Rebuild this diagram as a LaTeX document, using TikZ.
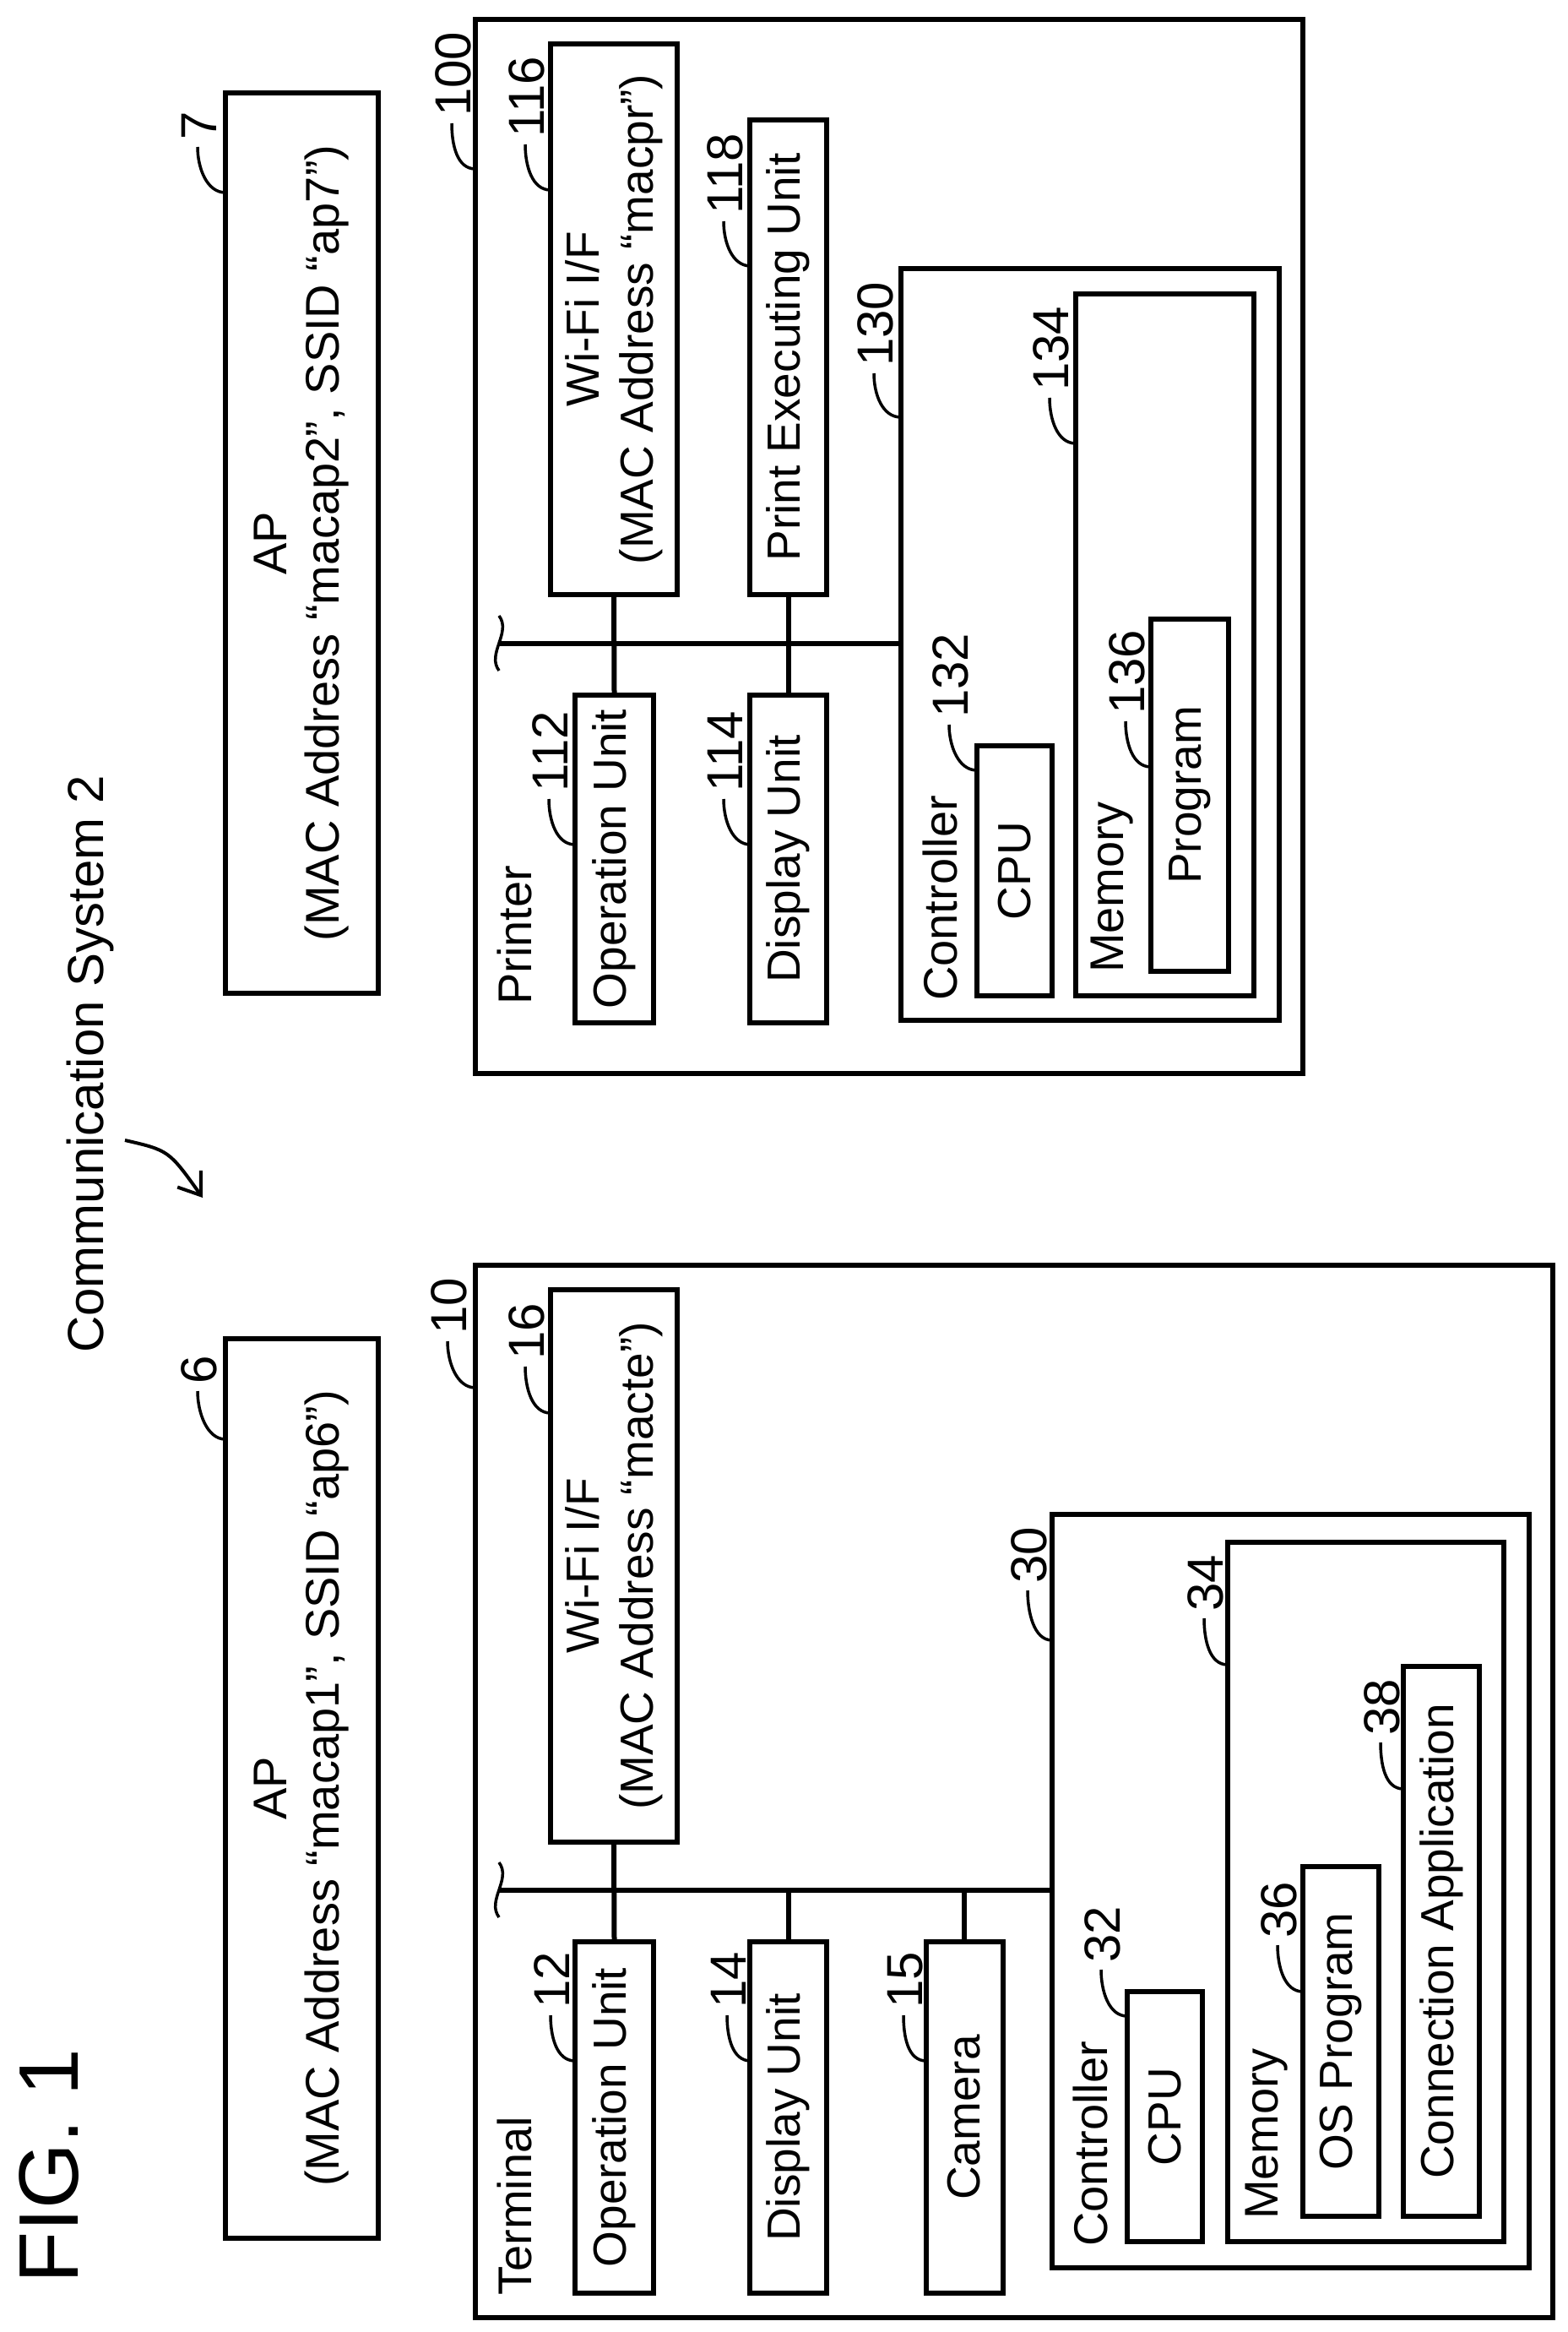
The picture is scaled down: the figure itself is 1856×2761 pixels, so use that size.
\documentclass[tikz,border=0pt]{standalone}
\usepackage{fontspec}
\setmainfont{Liberation Sans}
\usetikzlibrary{positioning, arrows.meta}

\tikzset{
  blk/.style={draw, line width=6pt, rotate=90, align=center, inner sep=0pt,
    font=\fontsize{55}{64}\selectfont},
  lbl/.style={rotate=90, anchor=west, inner sep=0pt, font=\fontsize{56}{64}\selectfont},
  num/.style={rotate=90, anchor=west, inner sep=0pt, font=\fontsize{60}{64}\selectfont},
  lead/.style={line width=3.5pt}
}
\newcommand{\refnum}[5]{% start x, start y, end x, end y, text
  \draw[lead] (#1,#2) .. controls (#1-22,#2) and (#3,#4+25) .. (#3,#4);
  \node[num] at (#3+2,#4-8) {#5};}

\begin{document}
\begin{tikzpicture}[x=1pt, y=-1pt]
		\useasboundingbox (0,0) rectangle (1856,2761);
		\node (fig) at (58,2565) [rotate=90, font=\fontsize{100}{110}\selectfont]{FIG. 1};
		\node (sys) at (107,1260) [rotate=90, font=\fontsize{60}{64}\selectfont]{Communication System 2};
		\draw[line width=4pt, -{Straight Barb[length=24pt, width=34pt]}] (148,1350) .. controls (200,1362) .. (240,1418);
		
		%Access points
		\node (ap7) at (357.5,643) [blk, minimum width=1066, minimum height=181, font=\fontsize{56}{62}\selectfont]
		{AP\\(MAC Address “macap2”, SSID “ap7”)};
		\node (ap6) at (357.5,2117.5) [blk, minimum width=1065, minimum height=181, font=\fontsize{56}{62}\selectfont]
		{AP\\(MAC Address “macap1”, SSID “ap6”)};
		\refnum{267}{228}{234}{174}{7}
		\refnum{267}{1704}{234}{1647}{6}
		
		%Terminal
		\node (term) at (1201,2121) [blk, minimum width=1246, minimum height=1276]{};
		\node (twifi) at (727,1854) [blk, minimum width=654, minimum height=150]
		{Wi-Fi I/F\\(MAC Address “macte”)};
		\node (top) at (727.5,2507) [blk, minimum width=416, minimum height=93]{Operation Unit};
		\node (tdsp) at (933.5,2507) [blk, minimum width=416, minimum height=91]{Display Unit};
		\node (tcam) at (1142,2507) [blk, minimum width=416, minimum height=91]{Camera};
		\node (tctl) at (1528.5,2239) [blk, minimum width=892, minimum height=565]{};
		\node (tcpu) at (1379.5,2506) [blk, minimum width=296, minimum height=89]{CPU};
		\node (tmem) at (1617.5,2240) [blk, minimum width=828, minimum height=327]{};
		\node (tos) at (1588,2417) [blk, minimum width=414, minimum height=90]{OS Program};
		\node (tapp) at (1707,2298.5) [blk, minimum width=651, minimum height=90]{Connection Application};
		\node (tterm) at (609,2718) [lbl]{Terminal};
		\node (tctlt) at (1291,2660) [lbl]{Controller};
		\node (tmemt) at (1500,2628) [lbl]{Memory};
		\coordinate (tbus) at (591,2238);
		\draw[line width=6pt] (tbus) -- (tbus -| tctl.north);
		\draw[line width=6pt] (twifi.west) -- (top.east);
		\draw[line width=6pt] (tdsp.east) -- (tdsp.east |- tbus);
		\draw[line width=6pt] (tcam.east) -- (tcam.east |- tbus);
		\draw[line width=3.5pt] (591,2205) .. controls (606,2225) and (576,2250) .. (591,2270);
		\refnum{563}{1643}{530}{1588}{10}
		\refnum{652}{1673}{622}{1618}{16}
		\refnum{1246}{1942}{1217}{1883}{30}
		\refnum{1454}{1971}{1426}{1916}{34}
		\refnum{1662}{2118}{1635}{2063}{38}
		\refnum{681}{2440}{652}{2386}{12}
		\refnum{889}{2440}{861}{2386}{14}
		\refnum{1097}{2440}{1070}{2386}{15}
		\refnum{1335}{2387}{1304}{2332}{32}
		\refnum{1543}{2358}{1513}{2303}{36}
		
		%Printer
		\node (prn) at (1053,647) [blk, minimum width=1248, minimum height=980]{};
		\node (pwifi) at (727,378) [blk, minimum width=652, minimum height=150]
		{Wi-Fi I/F\\(MAC Address “macpr”)};
		\node (pexe) at (933.5,423) [blk, minimum width=562, minimum height=91]{Print Executing Unit};
		\node (pop) at (727.5,1017) [blk, minimum width=388, minimum height=93]{Operation Unit};
		\node (pdsp) at (933.5,1017) [blk, minimum width=388, minimum height=91]{Display Unit};
		\node (pctl) at (1291,763) [blk, minimum width=890, minimum height=448]{};
		\node (pcpu) at (1201.5,1031) [blk, minimum width=296, minimum height=89]{CPU};
		\node (pmem) at (1379.5,763.5) [blk, minimum width=831, minimum height=211]{};
		\node (pprg) at (1409,941.5) [blk, minimum width=417, minimum height=92]{Program};
		\node (pprn) at (609,1190) [lbl]{Printer};
		\node (pctlt) at (1113,1185) [lbl]{Controller};
		\node (pmemt) at (1317,1152) [lbl]{Memory};
		\coordinate (pbus) at (591,762);
		\draw[line width=6pt] (pbus) -- (pbus -| pctl.north);
		\draw[line width=6pt] (pwifi.west) -- (pop.east);
		\draw[line width=6pt] (pexe.west) -- (pdsp.east);
		\draw[line width=3.5pt] (591,729) .. controls (606,749) and (576,774) .. (591,794);
		\refnum{563}{200}{535}{146}{100}
		\refnum{652}{225}{622}{171}{116}
		\refnum{889}{315}{857}{262}{118}
		\refnum{1067}{494}{1035}{442}{130}
		\refnum{1274}{525}{1243}{471}{134}
		\refnum{681}{1000}{650}{946}{112}
		\refnum{889}{1000}{857}{946}{114}
		\refnum{1157}{912}{1124}{858}{132}
		\refnum{1363}{908}{1333}{854}{136}
\end{tikzpicture}
\end{document}
